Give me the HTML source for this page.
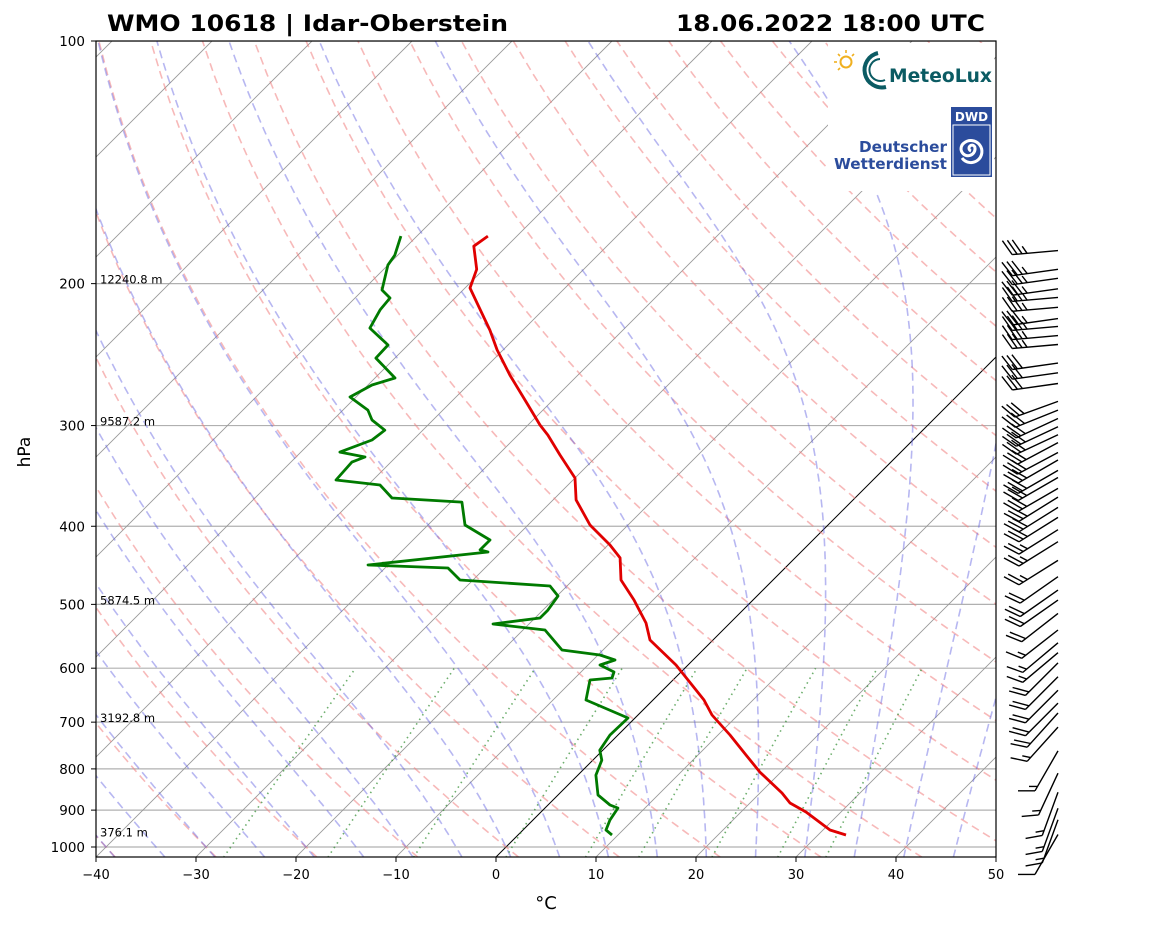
<!DOCTYPE html>
<html><head><meta charset="utf-8"><title>Skew-T</title>
<style>
html,body{margin:0;padding:0;background:#fff;}
svg{display:block;font-family:"DejaVu Sans","Liberation Sans",sans-serif;}
</style></head>
<body>
<svg id="chart" width="1160" height="925" viewBox="0 0 1160 925" xmlns="http://www.w3.org/2000/svg">
<defs><clipPath id="plotclip"><rect x="96" y="41" width="900" height="816"/></clipPath></defs>
<rect x="0" y="0" width="1160" height="925" fill="#fff"/>
<text x="107" y="31" font-size="22" font-weight="bold" fill="#000" textLength="401" lengthAdjust="spacingAndGlyphs">WMO 10618 | Idar-Oberstein</text>
<text x="676" y="31" font-size="22" font-weight="bold" fill="#000" textLength="309" lengthAdjust="spacingAndGlyphs">18.06.2022 18:00 UTC</text>
<g id="grid" clip-path="url(#plotclip)"></g>
<g id="series" clip-path="url(#plotclip)"></g>
<g id="logos">
  <rect x="828" y="43" width="166" height="148" fill="#fff"/>
  <g>
    <circle cx="846" cy="62" r="5.5" fill="none" stroke="#f0b020" stroke-width="2"/>
    <g stroke="#f0b020" stroke-width="1.6">
      <line x1="846" y1="50" x2="846" y2="53"/><line x1="834" y1="62" x2="837" y2="62"/>
      <line x1="838" y1="54" x2="840" y2="56"/><line x1="854" y1="54" x2="852" y2="56"/>
      <line x1="838" y1="70" x2="840" y2="68"/>
    </g>
    <path d="M878 53 A17 17 0 1 0 886 87" fill="none" stroke="#0b5b63" stroke-width="4"/>
    <path d="M880 59 A11 11 0 1 0 885 80" fill="none" stroke="#0b5b63" stroke-width="2"/>
    <text x="889" y="82" font-size="19" font-weight="bold" fill="#0b5b63" textLength="103" lengthAdjust="spacingAndGlyphs">MeteoLux</text>
  </g>
  <g>
    <rect x="951" y="107" width="41" height="70" fill="#2b4c9c"/>
    <rect x="953" y="125" width="37" height="50" fill="none" stroke="#fff" stroke-width="1"/>
    <text x="971.5" y="121" font-size="12" font-weight="bold" fill="#fff" text-anchor="middle">DWD</text>
    <path d="M971 151 a3 3 0 1 1 4 -3 a7 7 0 1 1 -11 -5 a11 11 0 1 1 -2 15" fill="none" stroke="#fff" stroke-width="3"/>
    <text x="947" y="152" font-size="15" font-weight="bold" fill="#2b4c9c" text-anchor="end" textLength="88" lengthAdjust="spacingAndGlyphs">Deutscher</text>
    <text x="947" y="169" font-size="15" font-weight="bold" fill="#2b4c9c" text-anchor="end" textLength="113" lengthAdjust="spacingAndGlyphs">Wetterdienst</text>
  </g>
</g>
<g id="axes"></g>
<g id="barbs"></g>
<text x="0" y="0" transform="translate(30,452) rotate(-90)" font-size="17" text-anchor="middle">hPa</text>
<text x="546" y="909" font-size="18" text-anchor="middle">°C</text>
</svg>
<script>
// ---- data ----
const yTicks = [100,200,300,400,500,600,700,800,900,1000];
const xTicks = [-40,-30,-20,-10,0,10,20,30,40,50];
const heightP = [200,300,500,700,970];
const heightLabels = ["12240.8 m","9587.2 m","5874.5 m","3192.8 m","376.1 m"];
const tempP = [174.6,179.7,192,202.5,212.6,228.4,241.7,259.7,282.9,299.5,308.3,326.3,348.5,371,398.6,422,437.9,466.4,493.8,527.3,553.6,594.6,620.6,657,685.8,726.1,768.9,807.3,857,881.9,904.9,952.6,966.3];
const tempT = [-62.9,-63.3,-60.7,-59.5,-57,-53.3,-50.6,-46.8,-42,-38.8,-37,-33.8,-30,-27.7,-23.8,-19.8,-17.5,-15.2,-11.9,-8.4,-6.3,-1.2,1.5,5.1,7.4,11.2,14.8,17.9,22.2,24,26.5,30.7,32.8];
const dewP = [174.6,184.4,189.7,203.7,208.4,215.6,227.1,238.3,247.4,261.9,267.2,276.5,287,295.3,304,312.6,323.6,328.2,333,350.5,355.5,369,373.3,398.6,416,428,430.5,446.8,450.6,466.4,474.5,488.2,508.2,519.9,528.8,538,569.6,577.8,586.1,594.6,606.6,617,620.6,657,691.8,726.1,758.3,780.3,814.4,862,887,894.7,926,952.6,966.3];
const dewT = [-71.6,-70.3,-70,-68.1,-66.5,-66.3,-65.5,-62,-61.9,-58,-59.6,-60.6,-57.5,-56.1,-53.8,-54.1,-56.1,-53.1,-53.9,-53.7,-48.8,-46.3,-38.9,-36.3,-32.3,-32.3,-31.3,-42,-33.7,-31.3,-21.7,-19.9,-19.5,-19.5,-23.6,-17.8,-14.1,-9.8,-7.8,-8.8,-6.7,-6.3,-8.3,-6.7,-0.7,-0.8,-0.3,0.9,1.8,4,6.2,7.3,7.7,8.3,9.4];
const barbP = [182,192,197,203,208,214,221,226,232,238,251,258,266,280,287,294,301,308,315,324,331,341,348,359,368,379,390,404,418,441,462,480,494,513,538,558,574,591,615,639,663,682,710,760,810,855,895,925,965];
const barbDir = [265,262,262,262,265,265,262,265,265,265,262,262,262,250,248,245,245,245,242,242,240,240,240,240,238,238,238,238,238,238,235,235,235,232,232,230,230,225,225,225,225,222,222,210,205,200,200,200,210];
const barbSpd = [35,35,35,35,35,35,35,35,35,35,30,30,30,30,30,30,30,30,30,30,30,30,30,30,30,30,30,25,25,25,20,20,20,20,15,15,15,20,20,20,20,20,15,15,15,15,15,15,10];
const dryTheta = [-40,-30,-20,-10,0,10,20,30,40,50,60,70,80,90,100,110,120,130,140,150,160,170,180,190,200,210,220,230,240];
const moistT0 = [-40,-35,-30,-25,-20,-15,-10,-5,0,5,10,15,20,25,30,35,40,45];
const mixW = [0.4,1,2,4,7,10,16,24,32];
const isoT = [-140,-130,-120,-110,-100,-90,-80,-70,-60,-50,-40,-30,-20,-10,0,10,20,30,40,50];

// ---- axes functions ----
function yP(p){return 41+806*Math.log10(p/100);}
function xTP(t,p){return 96+(t+40)*10+(857-yP(p));}
const NS="http://www.w3.org/2000/svg";
function mk(tag,attrs,parent){const e=document.createElementNS(NS,tag);for(const k in attrs)e.setAttribute(k,attrs[k]);parent.appendChild(e);return e;}
const grid=document.getElementById('grid'),series=document.getElementById('series'),axes=document.getElementById('axes'),barbs=document.getElementById('barbs');
function pathFrom(pts){return pts.map((q,i)=>(i?'L':'M')+q[0].toFixed(1)+' '+q[1].toFixed(1)).join('');}
const pGrid=[];for(let p=1030;p>=100;p-=10)pGrid.push(p);if(pGrid[pGrid.length-1]!==100)pGrid.push(100);

yTicks.forEach(p=>{const l=mk('line',{x1:96,x2:996,y1:yP(p),y2:yP(p),stroke:'#b0b0b0','stroke-width':1.2},grid);

});
isoT.forEach(t=>{const l=mk('line',{x1:xTP(t,1030),y1:yP(1030),x2:xTP(t,100),y2:yP(100),stroke:t===0?'#000':'#999','stroke-width':t===0?1:0.9},grid);

});
dryTheta.forEach(th=>{const pts=pGrid.map(p=>[xTP((th+273.15)*Math.pow(p/1000,0.2857)-273.15,p),yP(p)]);
const e=mk('path',{d:pathFrom(pts),fill:'none',stroke:'#f08080','stroke-opacity':0.55,'stroke-width':1.6,'stroke-dasharray':'8,5'},grid);

});
function es(tc){return 6.112*Math.exp(17.67*tc/(tc+243.5));}
function dTdp(T,p){const Rd=287.04,Cp=1005.7,Lv=2.501e6,eps=0.622;const rs=eps*es(T-273.15)/(p-es(T-273.15));
return (1/p)*(Rd*T+Lv*rs)/(Cp+Lv*Lv*rs*eps/(Rd*T*T));}
moistT0.forEach(t0=>{let T=t0+273.15,p=1000;const up=[[xTP(t0,1000),yP(1000)]];
while(p>100){const dp=-5;const k1=dTdp(T,p),k2=dTdp(T+k1*dp/2,p+dp/2),k3=dTdp(T+k2*dp/2,p+dp/2),k4=dTdp(T+k3*dp,p+dp);T+=dp*(k1+2*k2+2*k3+k4)/6;p+=dp;up.push([xTP(T-273.15,p),yP(p)]);}
T=t0+273.15;p=1000;const dn=[];while(p<1030){const dp=5;T+=dp*dTdp(T,p);p+=dp;dn.unshift([xTP(T-273.15,p),yP(p)]);}
const e=mk('path',{d:pathFrom(dn.concat(up)),fill:'none',stroke:'#6060e0','stroke-opacity':0.45,'stroke-width':1.6,'stroke-dasharray':'8,5'},grid);

});
mixW.forEach(w=>{const pts=[];for(let p=1030;p>=600;p-=10){const e=p*w/(622+w);const a=Math.log(e/6.112);const td=243.5*a/(17.67-a);pts.push([xTP(td,p),yP(p)]);}
const e=mk('path',{d:pathFrom(pts),fill:'none',stroke:'#2e8b2e','stroke-opacity':0.7,'stroke-width':1.6,'stroke-dasharray':'1.5,4'},grid);

});
const tl=mk('path',{d:pathFrom(tempP.map((p,i)=>[xTP(tempT[i],p),yP(p)])),fill:'none',stroke:'#e00000','stroke-width':2.8,'stroke-linejoin':'round'},series);


const dl=mk('path',{d:pathFrom(dewP.map((p,i)=>[xTP(dewT[i],p),yP(p)])),fill:'none',stroke:'#007a00','stroke-width':2.8,'stroke-linejoin':'round'},series);


heightP.forEach((p,i)=>{const t=mk('text',{x:100,y:yP(p)+0,'font-size':11.5,fill:'#000'},axes);t.textContent=heightLabels[i];

});
const fr=mk('rect',{x:96,y:41,width:900,height:816,fill:'none',stroke:'#000','stroke-width':1.2},axes);


yTicks.forEach(p=>{mk('line',{x1:91,x2:96,y1:yP(p),y2:yP(p),stroke:'#000'},axes);
const t=mk('text',{x:85,y:yP(p)+5,'font-size':13.5,'text-anchor':'end'},axes);t.textContent=p;

});
xTicks.forEach(v=>{const x=96+(v+40)*10;mk('line',{x1:x,x2:x,y1:857,y2:862,stroke:'#000'},axes);
const t=mk('text',{x:x,y:879,'font-size':13,'text-anchor':'middle'},axes);t.textContent=(v<0?'\u2212'+(-v):v);

});
barbP.forEach((p,i)=>{const d=barbDir[i]*Math.PI/180,L=46;const sx=Math.sin(d),sy=-Math.cos(d);
const tx=1058,ty=yP(p);const ex=tx+L*sx,ey=ty+L*sy;
const c=Math.cos(Math.PI/3),s=Math.sin(Math.PI/3);const fx=sx*c-sy*s,fy=sx*s+sy*c;
let dstr='M'+tx+' '+ty.toFixed(1)+'L'+ex.toFixed(1)+' '+ey.toFixed(1);
let spd=Math.round(barbSpd[i]/5)*5;let k=0;
while(spd>=10){const bx=ex-k*5*sx,by=ey-k*5*sy;dstr+='M'+bx.toFixed(1)+' '+by.toFixed(1)+'l'+(fx*17).toFixed(1)+' '+(fy*17).toFixed(1);spd-=10;k++;}
if(spd>=5){if(k===0)k=1;const bx=ex-k*5*sx,by=ey-k*5*sy;dstr+='M'+bx.toFixed(1)+' '+by.toFixed(1)+'l'+(fx*8.5).toFixed(1)+' '+(fy*8.5).toFixed(1);}
const b=mk('path',{d:dstr,fill:'none',stroke:'#000','stroke-width':1.4},barbs);

});
</script>
</body></html>
